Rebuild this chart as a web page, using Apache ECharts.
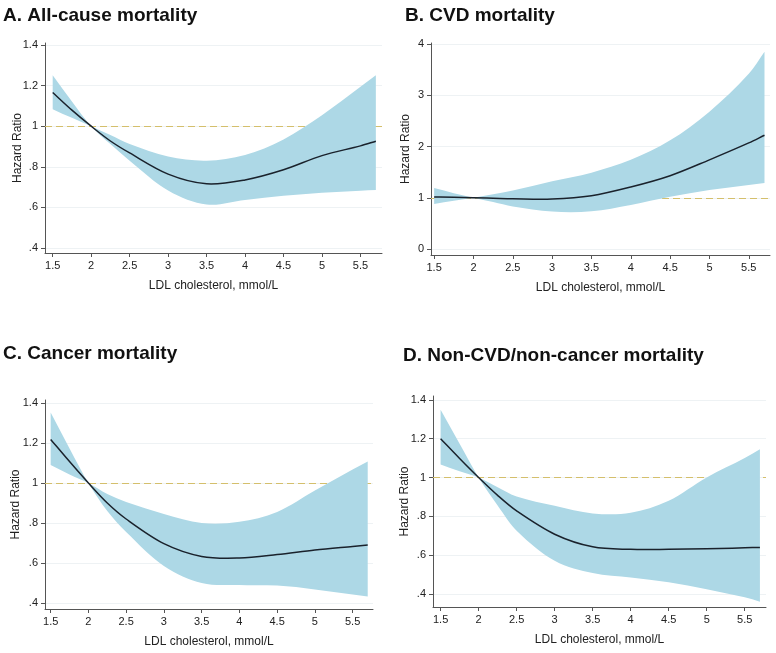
<!DOCTYPE html>
<html>
<head>
<meta charset="utf-8">
<script src="https://cdn.jsdelivr.net/npm/echarts@6/dist/echarts.min.js"></script>
<style>
html,body{margin:0;padding:0;background:#fff;}
#chart{width:776px;height:653px;}
</style>
</head>
<body>
<div id="chart"></div>
<script>
// ---- data ----
var ldl = [1.5, 1.75, 2, 2.25, 2.5, 3, 3.5, 4, 4.5, 5, 5.5, 5.7];

var titles = ['A. All-cause mortality', 'B. CVD mortality', 'C. Cancer mortality', 'D. Non-CVD/non-cancer mortality'];

var hrA    = [1.166, 1.079, 1.0, 0.927, 0.868, 0.764, 0.716, 0.735, 0.785, 0.855, 0.903, 0.926];
var upperA = [1.251, 1.122, 1.0, 0.956, 0.912, 0.85, 0.83, 0.858, 0.935, 1.054, 1.194, 1.251];
var lowerA = [1.084, 1.041, 1.0, 0.912, 0.83, 0.683, 0.614, 0.636, 0.657, 0.672, 0.682, 0.685];

var hrB    = [1.015, 1.008, 1.0, 0.99, 0.98, 0.975, 1.04, 1.21, 1.43, 1.74, 2.07, 2.22];
var upperB = [1.19, 1.09, 1.0, 1.07, 1.14, 1.32, 1.49, 1.74, 2.12, 2.68, 3.42, 3.85];
var lowerB = [0.877, 0.94, 1.0, 0.915, 0.83, 0.73, 0.735, 0.86, 1.02, 1.15, 1.25, 1.29];

var hrC    = [1.218, 1.107, 1.0, 0.9, 0.82, 0.697, 0.633, 0.625, 0.642, 0.665, 0.683, 0.69];
var upperC = [1.352, 1.173, 1.0, 0.945, 0.905, 0.845, 0.8, 0.806, 0.855, 0.962, 1.067, 1.108];
var lowerC = [1.09, 1.043, 1.0, 0.86, 0.755, 0.585, 0.5, 0.49, 0.487, 0.468, 0.442, 0.433];

var hrD    = [1.2, 1.098, 1.0, 0.908, 0.828, 0.708, 0.643, 0.63, 0.63, 0.633, 0.638, 0.64];
var upperD = [1.349, 1.174, 1.0, 0.95, 0.902, 0.854, 0.815, 0.818, 0.88, 1.0, 1.1, 1.146];
var lowerD = [1.067, 1.032, 1.0, 0.856, 0.726, 0.571, 0.508, 0.485, 0.46, 0.425, 0.383, 0.36];

var xTicks = [1.5, 2, 2.5, 3, 3.5, 4, 4.5, 5, 5.5];
var yTicksHR = [0.4, 0.6, 0.8, 1, 1.2, 1.4];
var yTicksB = [0, 1, 2, 3, 4];
var refHR = 1;

// ---- layout ----
var FONT = '"Liberation Sans", Arial, Helvetica, sans-serif';
var panels = [
  {hr: hrA, up: upperA, lo: lowerA, grid: {left: 45, top: 43, width: 337, height: 210}, xr: [1.4, 5.78], yr: [0.375, 1.41], yt: yTicksHR, title: [3, 6], yGap: 21},
  {hr: hrB, up: upperB, lo: lowerB, grid: {left: 431, top: 43, width: 339, height: 212}, xr: [1.46, 5.77], yr: [-0.117, 4.02], yt: yTicksB, title: [405, 6], yGap: 19},
  {hr: hrC, up: upperC, lo: lowerC, grid: {left: 45, top: 400, width: 328, height: 209}, xr: [1.425, 5.77], yr: [0.37, 1.415], yt: yTicksHR, title: [3, 344], yGap: 23},
  {hr: hrD, up: upperD, lo: lowerD, grid: {left: 433, top: 396, width: 333, height: 211}, xr: [1.4, 5.78], yr: [0.333, 1.42], yt: yTicksHR, title: [403, 346], yGap: 22}
];

function fmt(v) {
  var s = (Math.round(v * 10) / 10).toString();
  if (s.indexOf('0.') === 0) s = s.substring(1);
  return s;
}

// cubic Hermite segments in pixel space (slopes given as dy/dx)
function segments(pts, sl, sr) {
  var out = [];
  for (var i = 0; i < pts.length - 1; i++) {
    var p = pts[i], q = pts[i + 1], h = q[0] - p[0];
    out.push([p, [p[0] + h / 3, p[1] + sr[i] * h / 3], [q[0] - h / 3, q[1] - sl[i + 1] * h / 3], q]);
  }
  return out;
}
function slope(a, b) { return (b[1] - a[1]) / (b[0] - a[0]); }
function centeredSlopes(pts) {
  var s = [];
  for (var i = 0; i < pts.length; i++) {
    var a = pts[Math.max(0, i - 1)], b = pts[Math.min(pts.length - 1, i + 1)];
    s.push(slope(a, b));
  }
  return s;
}
function segsToPath(segs, start) {
  var d = start + segs[0][0][0] + ' ' + segs[0][0][1];
  segs.forEach(function (s) {
    d += ' C' + s[1][0] + ' ' + s[1][1] + ' ' + s[2][0] + ' ' + s[2][1] + ' ' + s[3][0] + ' ' + s[3][1];
  });
  return d;
}
function reverseSegs(segs) {
  return segs.slice().reverse().map(function (s) { return [s[3], s[2], s[1], s[0]]; });
}

function makeRender(p) {
  return function (params, api) {
    var U = ldl.map(function (x, k) { return api.coord([x, p.up[k]]); });
    var L = ldl.map(function (x, k) { return api.coord([x, p.lo[k]]); });
    var H = ldl.map(function (x, k) { return api.coord([x, p.hr[k]]); });
    var su = centeredSlopes(U), sl = centeredSlopes(L);
    var suL = su.slice(), suR = su.slice(), slL = sl.slice(), slR = sl.slice();
    // where the band pinches, the boundaries cross: use crossing-curve slopes
    for (var k = 1; k < ldl.length - 1; k++) {
      if (Math.abs(p.up[k] - p.lo[k]) < 1e-9) {
        suL[k] = slope(U[k - 1], L[k + 1]);
        slR[k] = suL[k];
        suR[k] = slope(L[k - 1], U[k + 1]);
        slL[k] = suR[k];
      }
    }
    var upSegs = segments(U, suL, suR);
    var loSegs = reverseSegs(segments(L, slL, slR));
    var band = segsToPath(upSegs, 'M');
    band += ' L' + loSegs[0][0][0] + ' ' + loSegs[0][0][1];
    loSegs.forEach(function (s) {
      band += ' C' + s[1][0] + ' ' + s[1][1] + ' ' + s[2][0] + ' ' + s[2][1] + ' ' + s[3][0] + ' ' + s[3][1];
    });
    band += ' Z';
    var sh = centeredSlopes(H);
    var line = segsToPath(segments(H, sh, sh), 'M');
    return {
      type: 'group',
      children: [
        {type: 'path', shape: {pathData: band}, style: {fill: '#add8e6', stroke: null}},
        {type: 'path', shape: {pathData: line}, style: {fill: null, stroke: '#1a222c', lineWidth: 1.5}}
      ]
    };
  };
}

var option = {
  backgroundColor: '#ffffff',
  animation: false,
  title: [], grid: [], xAxis: [], yAxis: [], series: []
};

panels.forEach(function (p, i) {
  option.title.push({
    text: titles[i], left: p.title[0], top: p.title[1], padding: 0,
    textStyle: {fontFamily: FONT, fontSize: 19, fontWeight: 'bold', color: '#111'}
  });
  option.grid.push(Object.assign({containLabel: false}, p.grid));
  option.xAxis.push({
    type: 'value', gridIndex: i, min: p.xr[0], max: p.xr[1],
    name: 'LDL cholesterol, mmol/L', nameLocation: 'middle', nameGap: 27, nameMoveOverlap: false,
    nameTextStyle: {fontFamily: FONT, fontSize: 12, color: '#222'},
    axisLine: {onZero: false, lineStyle: {color: '#555', width: 1}},
    axisTick: {show: true, length: 4, lineStyle: {color: '#555'}, customValues: xTicks},
    axisLabel: {fontFamily: FONT, fontSize: 11, color: '#222', margin: 7, customValues: xTicks,
      formatter: function (v) { return String(v); }},
    splitLine: {show: false}
  });
  option.yAxis.push({
    type: 'value', gridIndex: i, min: p.yr[0], max: p.yr[1],
    name: 'Hazard Ratio', nameLocation: 'middle', nameGap: p.yGap, nameRotate: 90, nameMoveOverlap: false,
    nameTextStyle: {fontFamily: FONT, fontSize: 12, color: '#222'},
    axisLine: {show: true, onZero: false, lineStyle: {color: '#555', width: 1}},
    axisTick: {show: true, length: 4, lineStyle: {color: '#555'}, customValues: p.yt},
    axisLabel: {fontFamily: FONT, fontSize: 11, color: '#222', margin: 7, customValues: p.yt, formatter: fmt},
    splitLine: {show: true, lineStyle: {color: '#eef2f4', width: 1}}
  });
  option.series.push({
    type: 'custom', xAxisIndex: i, yAxisIndex: i, z: 10, silent: true,
    data: [[ldl[0], p.hr[0]]],
    renderItem: makeRender(p),
    markLine: {
      silent: true, symbol: ['none', 'none'], label: {show: false},
      lineStyle: {color: '#d4bf6c', type: [7, 4], width: 1.2, opacity: 1},
      data: [{yAxis: refHR}]
    }
  });
});

var chart = echarts.init(document.getElementById('chart'), null, {renderer: 'canvas'});
chart.setOption(option);
</script>
</body>
</html>
